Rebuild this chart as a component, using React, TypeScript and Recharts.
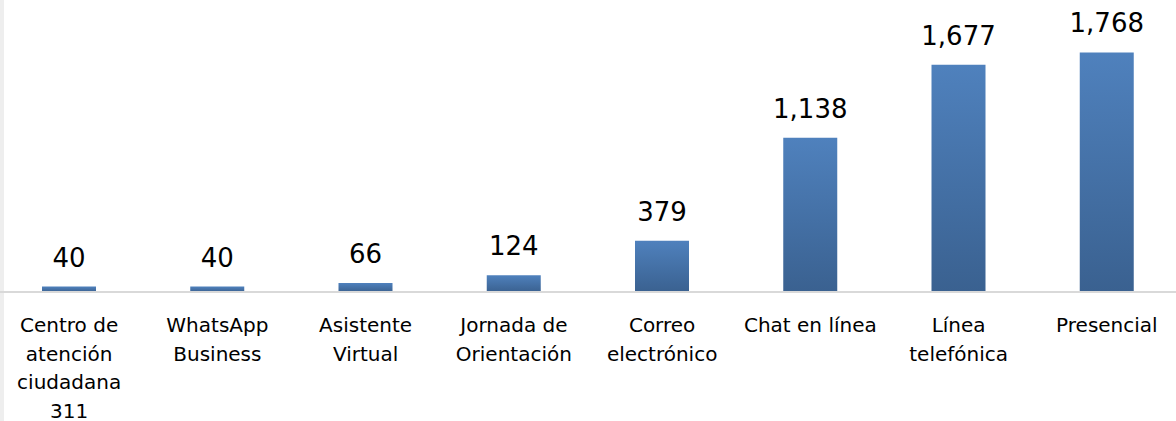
import React from "react";
import { BarChart, Bar, XAxis, YAxis, LabelList } from "recharts";

const categories = [
  "Centro de\natención\nciudadana\n311",
  "WhatsApp\nBusiness",
  "Asistente\nVirtual",
  "Jornada de\nOrientación",
  "Correo\nelectrónico",
  "Chat en línea",
  "Línea\ntelefónica",
  "Presencial",
];
const values = [40, 40, 66, 124, 379, 1138, 1677, 1768];

const data = categories.map((c, i) => ({ name: c, value: values[i] }));

const FONT = "'DejaVu Sans', sans-serif";

const Tick = (props: any) => {
  const { x, y, payload } = props;
  const lines = String(payload.value).split("\n");
  return (
    <text x={x} y={y} textAnchor="middle" fill="#000" fontFamily={FONT} fontSize={20}>
      {lines.map((l, i) => (
        <tspan key={i} x={x} dy={i === 0 ? 40 : 28.7}>
          {l}
        </tspan>
      ))}
    </text>
  );
};

export default function App() {
  return (
    <div style={{ position: "absolute", left: 0, top: 0, width: 1176, height: 421, overflow: "hidden", background: "#fff" }}>
      <div style={{ position: "absolute", left: 0, top: 0, width: 4, height: 421, background: "#eeeeee" }} />
      <div style={{ position: "absolute", left: -5, top: 0 }}>
        <BarChart
          width={1186}
          height={421}
          data={data}
          margin={{ top: 21, right: 0, bottom: 99, left: 0 }}
          barSize={54}
        >
          <defs>
            <linearGradient id="barGrad" x1="0" y1="0" x2="0" y2="1">
              <stop offset="0%" stopColor="#4f81bd" />
              <stop offset="100%" stopColor="#3a6190" />
            </linearGradient>
          </defs>
          <YAxis hide domain={[0, 2000]} />
          <XAxis
            dataKey="name"
            height={30}
            interval={0}
            tickLine={false}
            tickSize={0}
            tickMargin={0}
            axisLine={{ stroke: "#d9d9d9", strokeWidth: 2 }}
            tick={<Tick />}
          />
          <Bar dataKey="value" fill="url(#barGrad)" isAnimationActive={false}>
            <LabelList
              dataKey="value"
              position="top"
              offset={20}
              formatter={(v: any) => Number(v).toLocaleString("en-US")}
              style={{ fontFamily: FONT, fontSize: 26, fill: "#000" }}
            />
          </Bar>
        </BarChart>
      </div>
    </div>
  );
}
